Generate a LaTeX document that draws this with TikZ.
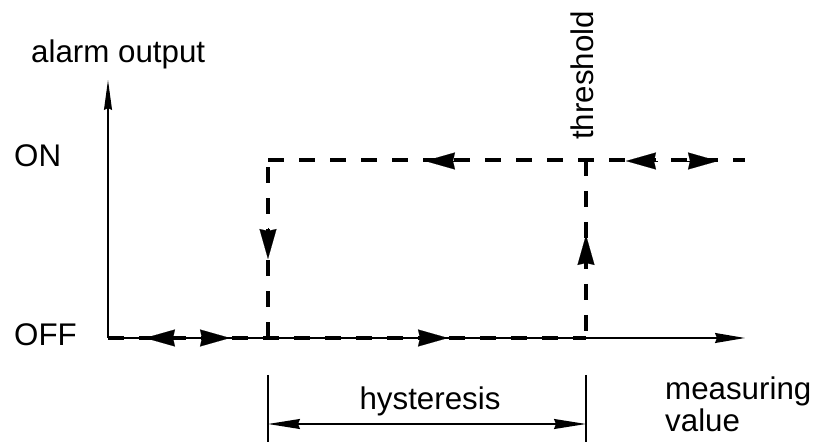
\documentclass[tikz,border=0pt]{standalone}
\usepackage{fontspec}
\setmainfont{Liberation Sans}
\usetikzlibrary{arrows.meta}
\begin{document}
\begin{tikzpicture}[x=1pt,y=-1pt,
  lbl/.style={font=\fontsize{31.3}{34}\selectfont, inner sep=0pt},
  axis/.style={line width=1.3pt},
  loopline/.style={line width=4.5pt, dash pattern=on 16pt off 15pt},
  amark/.style={line width=0.1pt, -{Stealth[length=30pt,width=17pt,inset=2pt]}},
  dimarrow/.style={line width=1.3pt, {Stealth[length=32pt,width=10pt,inset=2pt]}-{Stealth[length=32pt,width=10pt,inset=2pt]}}
]
\useasboundingbox (0,0) rectangle (823,443);
% coordinates
\coordinate (O) at (108,338);
\coordinate (Ytop) at (108,80);
\coordinate (Xend) at (745,338);
\coordinate (A) at (268,338);
\coordinate (B) at (268,160);
\coordinate (C) at (586,160);
\coordinate (D) at (586,338);
\coordinate (E) at (745,160);
% axes
\draw[axis, -{Stealth[length=30pt,width=8pt,inset=2pt]}] (O) -- (Ytop);
\draw[axis, -{Stealth[length=30pt,width=10pt,inset=2pt]}] (O) -- (Xend);
% dashed hysteresis loop
\draw[loopline] (O) -- (D);
\draw[loopline] (A) -- (B);
\draw[loopline] (B) -- (E);
\draw[loopline] (C) -- (D);
% arrow marks on the loop
\coordinate (m1a) at (173,338); \coordinate (m1b) at (145,338);
\coordinate (m2a) at (198,338); \coordinate (m2b) at (230,338);
\coordinate (m3a) at (418,338); \coordinate (m3b) at (448,338);
\coordinate (m4a) at (453,161); \coordinate (m4b) at (425,161);
\coordinate (m5a) at (658,161); \coordinate (m5b) at (626,161);
\coordinate (m6a) at (686,161); \coordinate (m6b) at (718,161);
\coordinate (m7a) at (268,228); \coordinate (m7b) at (268,259);
\coordinate (m8a) at (586,259); \coordinate (m8b) at (586,235);
\foreach \i in {1,...,8} {\draw[amark] (m\i a) -- (m\i b);}
% dimension
\coordinate (h1t) at (268,375); \coordinate (h1b) at (268,442);
\coordinate (h2t) at (586,375); \coordinate (h2b) at (586,442);
\coordinate (h1) at (268,424); \coordinate (h2) at (586,424);
\draw[line width=1.1pt] (h1t) -- (h1b);
\draw[line width=1.1pt] (h2t) -- (h2b);
\draw[dimarrow] (h1) -- (h2);
% labels
\node[lbl, anchor=base west] (tAlarm) at (31,63) {alarm output};
\node[lbl, anchor=base west] (tOn) at (14,167) {ON};
\node[lbl, anchor=base west] (tOff) at (14,346) {OFF};
\node[lbl, anchor=base west, rotate=90] (tThr) at (593,140) {threshold};
\node[lbl, anchor=base] (tHys) at (430,410) {hysteresis};
\node[lbl, anchor=base west] (tMeas) at (665,400) {measuring};
\node[lbl, anchor=base west] (tVal) at (665,432) {value};
\end{tikzpicture}
\end{document}
